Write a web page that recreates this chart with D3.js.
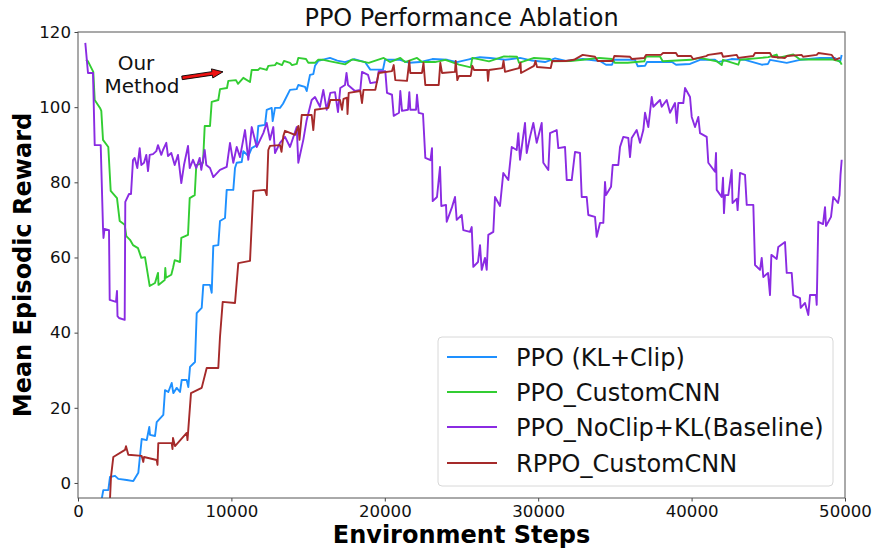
<!DOCTYPE html>
<html><head><meta charset="utf-8">
<script src="https://cdn.jsdelivr.net/npm/d3@7"></script>
<style>body{margin:0;background:#fff} svg{display:block} text{font-family:"DejaVu Sans",sans-serif}</style>
</head><body><svg id="c" width="873" height="552"></svg>
<script>
const xTicks=[0,10000,20000,30000,40000,50000];
const yTicks=[0,20,40,60,80,100,120];
const seriesNames=["PPO (KL+Clip)","PPO_CustomCNN","PPO_NoClip+KL(Baseline)","RPPO_CustomCNN"];
const seriesColors=["#1e90ff","#32cd32","#8a2be2","#a52a2a"];

const ppoKLClip=[[1220,-4.3],[1545,-4.3],[1649,-1.9],[1975,-1.9],[2086,1.6],[2412,1.9],[2627,1.1],[3175,0.8],[3605,0.5],[3931,2.7],[4153,11.7],[4479,11.4],[4648,14.9],[4694,12.8],[5020,12.5],[5130,16.2],[5561,18.1],[5672,24.7],[5887,24.2],[6108,26.6],[6213,23.9],[6434,25.3],[6649,24.2],[6760,27.4],[7086,27.4],[7191,25.5],[7302,30.9],[7627,32.2],[7738,45.2],[8064,46.6],[8168,52.7],[8605,52.7],[8716,50.6],[8820,63.1],[9146,63.3],[9257,69.7],[9583,70.5],[9694,78.0],[10124,78.0],[10235,83.8],[10346,85.2],[10672,85.4],[10776,88.3],[11102,87.0],[11324,89.1],[11650,89.9],[11754,95.0],[12191,95.3],[12302,99.3],[12627,99.8],[12692,96.3],[12842,99.8],[13168,99.8],[13364,100.9],[13820,104.6],[14257,104.8],[14361,105.9],[14798,105.4],[14909,104.3],[15124,108.6],[15339,108.8],[15450,111.0],[15665,112.3],[16428,113.1],[16900,112.4],[17406,112.0],[18000,112.8],[18710,112.0],[19055,110.0],[19883,110.0],[20013,112.6],[20992,112.6],[21600,111.8],[22295,112.0],[23100,112.8],[24075,112.6],[24707,112.0],[25555,112.8],[26200,113.3],[26859,113.1],[27836,112.6],[28815,113.1],[29600,112.4],[30444,112.0],[31100,113.0],[31813,112.3],[32900,112.8],[34029,112.3],[34420,111.3],[34812,111.3],[34942,112.6],[36311,112.6],[36487,110.9],[36963,111.0],[37093,112.0],[38723,112.0],[38984,111.3],[39897,111.5],[40548,112.6],[41526,112.6],[41722,112.0],[42600,112.8],[43482,112.6],[44571,111.3],[44981,111.5],[45111,112.6],[46200,111.8],[47067,112.6],[48371,113.1],[49349,113.1],[49674,112.0],[49785,113.9]];

const ppoCustomCNN=[[522,112.6],[652,112.2],[997,109.4],[1089,101.9],[1434,99.8],[1519,99.0],[1630,91.3],[1975,89.4],[2132,77.7],[2542,75.8],[2718,69.7],[3044,68.7],[3149,65.7],[3390,64.7],[3585,63.3],[3911,62.5],[4126,59.9],[4368,60.1],[4674,52.4],[5020,53.2],[5215,55.9],[5248,52.7],[5652,54.0],[5691,57.2],[5737,54.6],[6082,55.4],[6193,57.2],[6304,59.3],[6649,58.8],[6734,65.2],[7171,66.0],[7282,75.8],[7608,76.6],[7712,84.6],[8149,85.2],[8260,95.0],[8605,95.0],[8716,101.4],[9146,101.9],[9257,104.8],[9713,105.1],[9798,107.0],[10300,107.2],[10430,106.2],[10776,107.8],[11213,106.7],[11324,109.9],[11734,109.9],[11864,110.4],[12302,109.9],[12406,111.0],[12842,111.2],[12953,111.8],[13299,111.2],[13429,112.3],[13820,111.8],[13951,111.2],[14257,111.5],[14361,113.1],[14863,112.8],[15013,111.8],[15450,111.8],[15646,112.6],[15991,112.6],[16448,112.2],[17425,111.4],[17862,112.7],[18951,111.8],[19929,113.1],[20339,112.0],[21011,113.1],[21317,112.0],[22099,113.1],[22425,112.0],[23273,112.0],[23945,112.6],[24838,111.3],[25600,110.6],[25705,113.1],[26794,112.2],[27772,113.5],[28619,113.4],[28749,111.8],[29727,113.1],[30770,112.8],[30920,112.2],[32073,112.3],[32901,112.6],[33984,113.1],[34812,112.8],[35007,111.8],[35835,111.8],[36917,112.2],[37028,113.5],[37941,113.5],[38117,112.2],[39962,112.6],[40548,113.1],[41637,112.2],[41963,111.2],[42048,112.6],[43045,111.3],[43156,112.6],[45001,113.3],[45548,114.0],[45633,113.1],[46630,114.0],[47067,112.7],[49133,112.7],[49674,112.2],[49785,111.3]];

const ppoNoClipKL=[[476,117.1],[652,109.1],[978,109.1],[1089,89.9],[1480,89.9],[1630,67.9],[1662,65.2],[1728,67.6],[2021,67.3],[2067,48.7],[2477,48.2],[2542,51.1],[2575,44.4],[2673,43.9],[3044,43.4],[3083,74.8],[3325,76.9],[3455,76.9],[3585,85.9],[3696,86.5],[3866,83.8],[4022,89.1],[4126,84.6],[4303,85.2],[4453,87.3],[4563,83.0],[4674,87.3],[4889,87.5],[5104,88.3],[5215,89.9],[5430,87.3],[5541,88.6],[5756,90.5],[5867,87.0],[6082,87.8],[6304,84.6],[6519,87.3],[6734,79.8],[6910,84.6],[7171,89.7],[7282,83.8],[7497,86.0],[7712,83.8],[7934,86.5],[8038,83.3],[8260,88.6],[8364,84.6],[8605,83.8],[8820,81.4],[9257,83.3],[9694,84.1],[9909,90.5],[10124,85.2],[10346,89.4],[10561,86.7],[10887,93.9],[11102,86.0],[11324,94.7],[11650,89.4],[12080,93.1],[12302,95.8],[12516,91.3],[12732,94.7],[12842,87.8],[13168,90.5],[13494,92.1],[13820,89.4],[14257,94.7],[14361,85.2],[14688,91.3],[14909,96.6],[15235,101.9],[15450,102.7],[15776,100.1],[15991,104.6],[16213,99.3],[16448,103.8],[16754,104.0],[16949,98.7],[17099,105.1],[17406,105.9],[17504,109.1],[17601,105.9],[18057,104.3],[18403,104.6],[18514,109.4],[18905,108.6],[19055,106.4],[19492,106.7],[19603,109.6],[20033,109.6],[20144,103.8],[20470,103.3],[20581,97.7],[20926,98.5],[21011,104.3],[21122,99.0],[21513,99.3],[21598,104.0],[21663,99.3],[22034,99.3],[22099,103.3],[22210,98.5],[22491,98.2],[22641,86.5],[22980,85.9],[23077,89.1],[23123,75.0],[23403,76.1],[23599,84.1],[23684,73.7],[23990,74.0],[24036,69.5],[24381,73.4],[24577,76.1],[24687,70.0],[25013,71.3],[25118,67.3],[25555,66.8],[25666,68.1],[25770,57.5],[26076,58.8],[26207,63.3],[26317,56.7],[26532,59.9],[26643,56.7],[26747,66.0],[27073,66.8],[27184,76.1],[27510,73.7],[27725,82.5],[28051,80.6],[28273,89.4],[28599,88.6],[28704,93.1],[28815,86.0],[29140,95.8],[29251,87.8],[29466,92.1],[29682,95.8],[29903,90.5],[30229,95.8],[30333,85.2],[30659,83.3],[30770,93.1],[31207,93.9],[31311,89.1],[31748,89.4],[31859,80.6],[32185,80.6],[32400,88.1],[32725,87.8],[32836,76.1],[33162,76.1],[33266,71.3],[33703,70.8],[33814,65.5],[34029,69.2],[34245,69.2],[34355,80.1],[34420,76.6],[34747,78.8],[34857,84.6],[35222,84.6],[35333,89.4],[35548,92.1],[35874,91.8],[35985,86.7],[36096,91.8],[36421,93.9],[36637,90.5],[36852,93.9],[36963,98.5],[37178,94.7],[37400,102.7],[37504,100.1],[37941,101.9],[38052,100.1],[38378,101.9],[38593,98.5],[38919,101.1],[39029,95.8],[39134,101.1],[39460,101.1],[39571,105.1],[39897,102.7],[40008,97.4],[40223,94.7],[40437,97.4],[40548,93.1],[40985,92.1],[41089,85.2],[41526,82.8],[41591,87.8],[41637,78.0],[41963,76.1],[42048,81.2],[42110,71.8],[42178,76.6],[42393,76.6],[42615,83.3],[42667,74.5],[42941,75.6],[43000,72.6],[43156,82.5],[43482,82.0],[43593,74.0],[44023,74.0],[44134,58.0],[44460,56.7],[44571,59.9],[44675,54.8],[44981,55.9],[45111,50.0],[45200,60.7],[45548,59.6],[45650,62.8],[46089,64.1],[46200,55.9],[46526,55.9],[46630,50.0],[47067,49.2],[47113,46.6],[47393,47.9],[47608,44.7],[47719,50.0],[48110,50.0],[48156,47.4],[48260,69.5],[48567,68.9],[48697,73.4],[48762,68.4],[49088,70.8],[49238,76.1],[49544,74.5],[49642,76.6],[49707,82.0],[49785,86.0]];

const rppoCustomCNN=[[1220,-4.3],[2086,-4.3],[2151,1.6],[2301,6.9],[3064,8.8],[3129,9.8],[3279,7.5],[4153,7.2],[4257,5.6],[4303,6.9],[5130,6.1],[5183,4.8],[5235,10.6],[5672,10.6],[6108,10.6],[6160,9.0],[6193,12.0],[6323,9.8],[7086,13.3],[7139,11.4],[7236,16.8],[7366,23.9],[8064,25.3],[8390,30.6],[9146,30.6],[9257,38.9],[9433,48.2],[10235,47.9],[10450,58.5],[11213,59.1],[11428,77.7],[12191,78.0],[12302,76.6],[12406,88.6],[12516,89.7],[13168,89.9],[13266,88.1],[13384,92.3],[13494,93.7],[14146,92.6],[14361,95.0],[14439,91.3],[14583,97.9],[15235,97.9],[15339,93.9],[15450,99.3],[16317,99.8],[16448,101.9],[17080,101.9],[17211,99.3],[17308,102.2],[17536,102.5],[17569,98.2],[17647,103.8],[18403,104.3],[18514,101.1],[18612,104.6],[19381,104.6],[19603,109.1],[20470,109.6],[20581,111.2],[20685,107.2],[21448,107.0],[21598,112.3],[21663,109.1],[22425,109.1],[22523,111.8],[22641,105.9],[23514,105.9],[23619,111.8],[23729,109.1],[24577,109.4],[24622,112.3],[24727,107.2],[24838,108.3],[25600,108.3],[25705,111.0],[25815,109.9],[26683,109.9],[26729,107.0],[26794,109.9],[27661,110.4],[27739,112.3],[27836,109.4],[28749,110.4],[28847,111.8],[28880,109.1],[29727,111.0],[29825,112.3],[29923,110.7],[30816,110.4],[30920,112.3],[31793,112.3],[32334,112.6],[32901,113.9],[33703,113.4],[33879,112.3],[34857,112.3],[34962,113.6],[35985,113.4],[36115,112.8],[36917,113.1],[37028,113.9],[38006,113.9],[38136,114.4],[38984,114.4],[39095,113.6],[39962,113.6],[40092,112.8],[40939,113.6],[41089,113.9],[41963,114.4],[42048,113.4],[42941,113.9],[43045,113.1],[44023,113.6],[44134,114.4],[45111,114.4],[45242,113.4],[46089,113.1],[46219,113.6],[47178,113.9],[47263,113.4],[48156,113.9],[48260,114.4],[49133,113.9],[49349,112.6],[49674,113.1]];

const seriesData=[ppoKLClip,ppoCustomCNN,ppoNoClipKL,rppoCustomCNN];
const annotationLines=["Our","Method"];
const annotationPos=[[3781,109.9],[4172,103.8]];
const arrowTail=[6780,107.8], arrowTip=[9453,109.4];

const svg=d3.select("#c");
const L=78,R=845,T=32,B=498;
const x=d3.scaleLinear().domain([0,50000]).range([L,R]);
const y=d3.scaleLinear().domain([-4,120]).range([B,T]);

svg.append("defs").append("clipPath").attr("id","clip").append("rect")
  .attr("x",L).attr("y",T).attr("width",R-L).attr("height",B-T);

const line=d3.line().x(d=>x(d[0])).y(d=>y(d[1]));
const g=svg.append("g").attr("clip-path","url(#clip)");
seriesData.forEach((s,i)=>{
  g.append("path").datum(s).attr("d",line).attr("fill","none")
   .attr("stroke",seriesColors[i]).attr("stroke-width",1.9).attr("stroke-linejoin","round");
});

// axes
const xa=svg.append("g").attr("transform",`translate(0,${B})`)
  .call(d3.axisBottom(x).tickValues(xTicks).tickFormat(d3.format("d")).tickSize(3.5).tickPadding(3.5));
const ya=svg.append("g").attr("transform",`translate(${L},0)`)
  .call(d3.axisLeft(y).tickValues(yTicks).tickSize(3.5).tickPadding(3.5));
[xa,ya].forEach(a=>{
  a.select(".domain").remove();
  a.selectAll("line").attr("stroke","#444");
  a.selectAll("text").attr("font-size","16.6px").attr("fill","#111").attr("font-family","DejaVu Sans");
});
svg.append("rect").attr("x",L).attr("y",T).attr("width",R-L).attr("height",B-T)
  .attr("fill","none").attr("stroke","#555").attr("stroke-width",1);

// title & labels
svg.append("text").attr("x",(L+R)/2).attr("y",26).attr("text-anchor","middle")
  .attr("font-size","24px").attr("fill","#111").text("PPO Performance Ablation");
svg.append("text").attr("x",(L+R)/2).attr("y",542.5).attr("text-anchor","middle")
  .attr("font-size","24px").attr("font-weight","bold").attr("fill","#000").text("Environment Steps");
svg.append("text").attr("transform",`translate(31,${(T+B)/2}) rotate(-90)`).attr("text-anchor","middle")
  .attr("font-size","24px").attr("font-weight","bold").attr("fill","#000").text("Mean Episodic Reward");

// annotation
annotationLines.forEach((t,i)=>{
  svg.append("text").attr("x",x(annotationPos[i][0])).attr("y",y(annotationPos[i][1]))
    .attr("text-anchor","middle").attr("font-size","20px").attr("fill","#111").text(t);
});
(function(){
  const x0=x(arrowTail[0]),y0=y(arrowTail[1]),x1=x(arrowTip[0]),y1=y(arrowTip[1]);
  const dx=x1-x0,dy=y1-y0,len=Math.hypot(dx,dy),ux=dx/len,uy=dy/len,nx=-uy,ny=ux;
  const sw=1.8,hw=4.6,hl=11;
  const bx=x1-ux*hl,by=y1-uy*hl;
  const pts=[[x0+nx*sw,y0+ny*sw],[bx+nx*sw,by+ny*sw],[bx+nx*hw,by+ny*hw],[x1,y1],
             [bx-nx*hw,by-ny*hw],[bx-nx*sw,by-ny*sw],[x0-nx*sw,y0-ny*sw]];
  svg.append("polygon").attr("points",pts.map(p=>p.join(",")).join(" "))
    .attr("fill","#ee1111").attr("stroke","#000").attr("stroke-width",0.9).attr("stroke-linejoin","miter");
})();

// legend
const lg=svg.append("g");
lg.append("rect").attr("x",438).attr("y",337).attr("width",395).attr("height",149).attr("rx",4)
  .attr("fill","#fff").attr("fill-opacity",0.8).attr("stroke","#d8d8d8").attr("stroke-width",1);
const rowY=[357,392,427,463];
seriesNames.forEach((n,i)=>{
  lg.append("line").attr("x1",447).attr("x2",497).attr("y1",rowY[i]).attr("y2",rowY[i])
    .attr("stroke",seriesColors[i]).attr("stroke-width",2);
  lg.append("text").attr("x",516).attr("y",rowY[i]).attr("dy","0.36em")
    .attr("font-size","24px").attr("fill","#111").text(n);
});
</script></body></html>
